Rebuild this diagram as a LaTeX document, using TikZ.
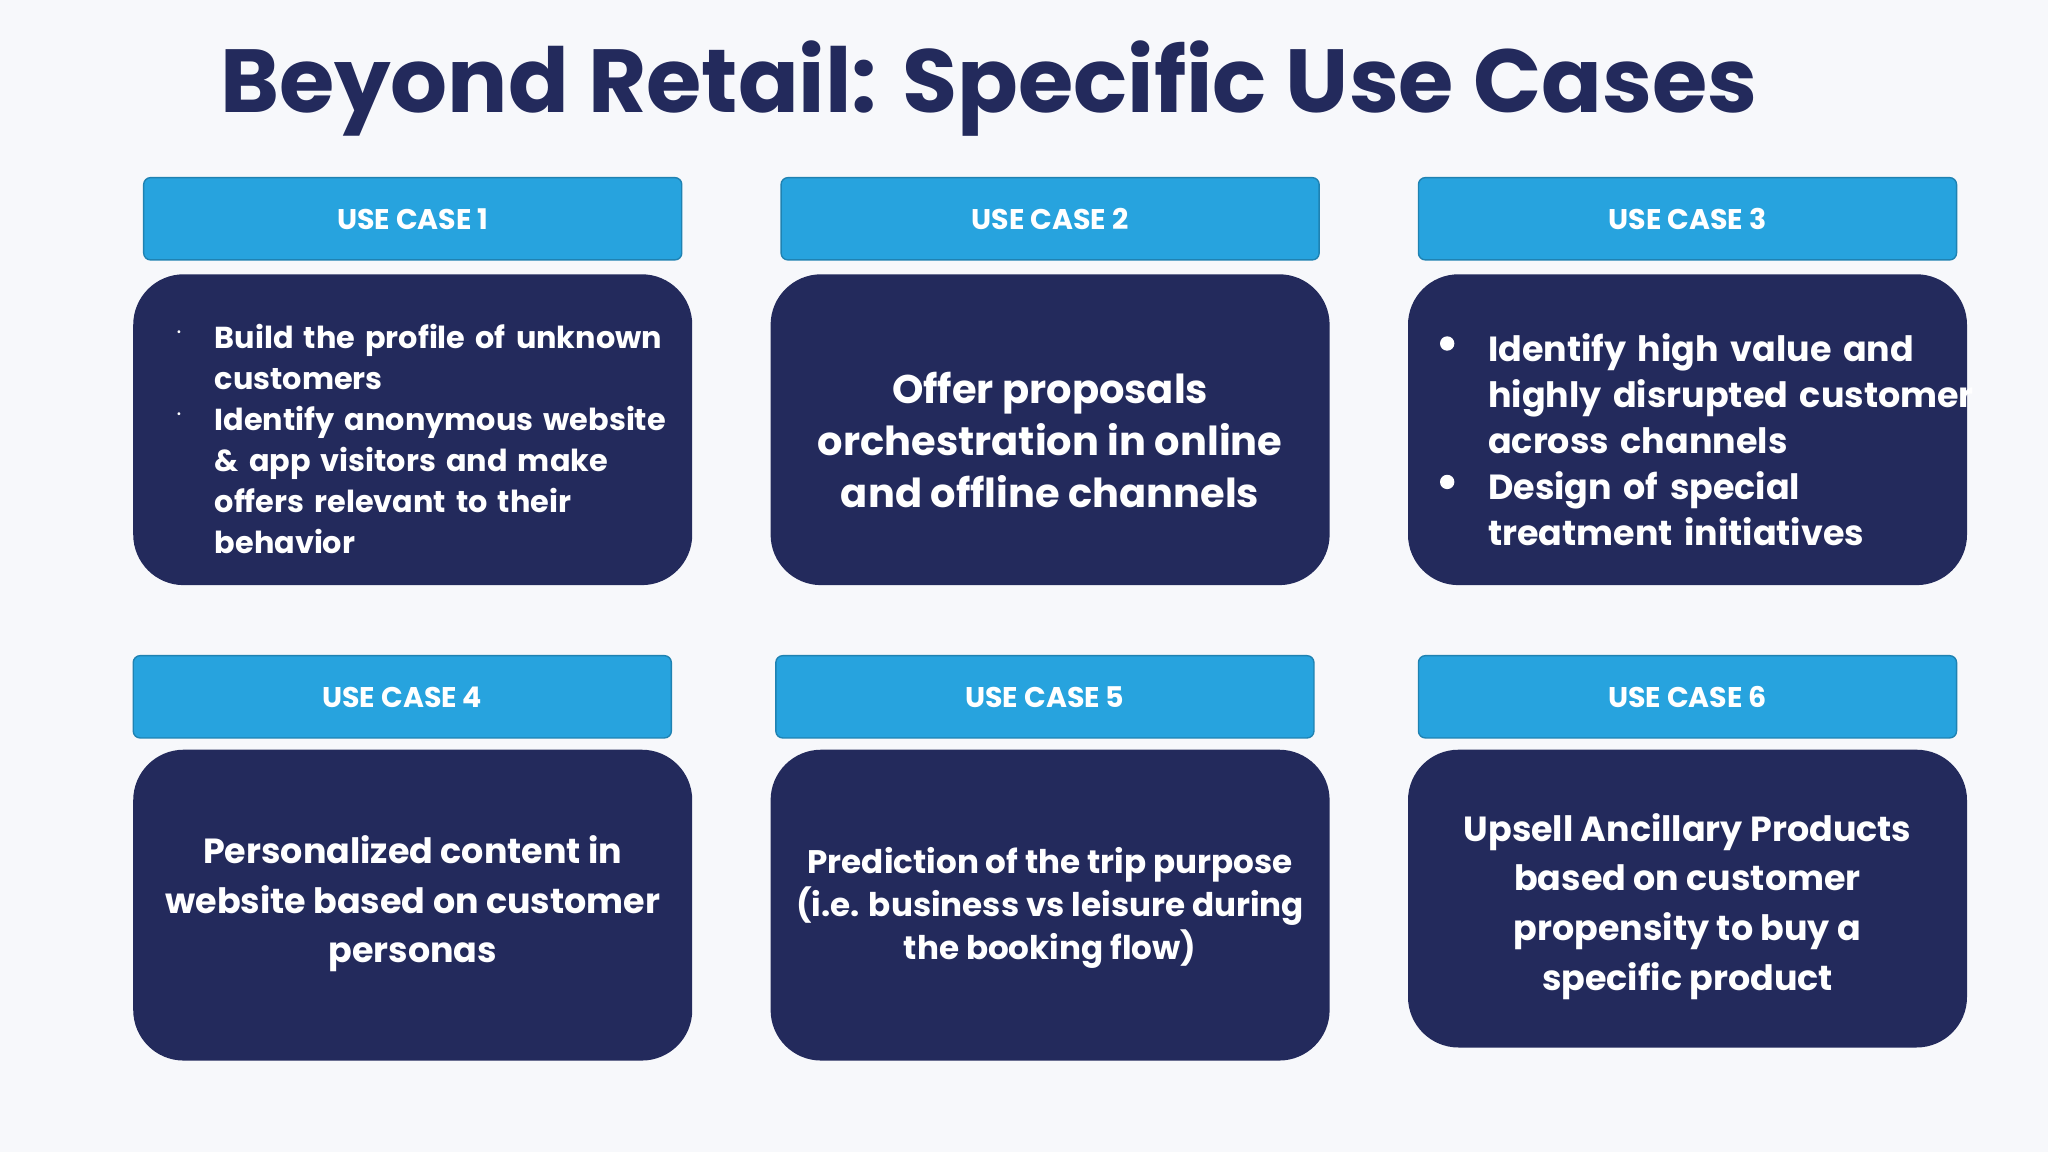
\documentclass[tikz,border=0pt]{standalone}
\usepackage{fontspec}
\setmainfont{Poppins}
\definecolor{navy}{HTML}{232A5C}
\definecolor{sky}{HTML}{27A3DE}
\definecolor{bg}{HTML}{F7F8FB}
\begin{document}
\begin{tikzpicture}[x=0.01cm,y=-0.01cm,
 hdr/.style={fill=sky,draw=sky!80!black,line width=0.3pt,rounded corners=1.5pt,text=white,font=\fontsize{6}{7}\selectfont\bfseries},
 card/.style={fill=navy,rounded corners=11pt,text=white,align=center},
 body/.style={text=white,align=center,font=\fontsize{7.6}{10.8}\selectfont\bfseries},
 lst/.style={text=white,align=left,font=\fontsize{6.6}{8.9}\selectfont\bfseries}]
\fill[bg] (0,0) rectangle (1568,882);
\useasboundingbox (0,0) rectangle (1568,882);
\node[text=navy,font=\fontsize{19.5}{22}\selectfont\bfseries] (title) at (757,68) {Beyond Retail: Specific Use Cases};
% headers
\foreach \n/\a/\b/\t/\bb in {h1/110/522/136/199,h2/598/1010/136/199,h3/1086/1498/136/199,h4/102/514/502/565,h5/594/1006/502/565,h6/1086/1498/502/565}{
  \path[hdr] (\a,\t) rectangle (\b,\bb);}
\node[text=white,font=\fontsize{6.2}{7}\selectfont\bfseries] (t1) at (316,168) {USE CASE 1};
\node[text=white,font=\fontsize{6.2}{7}\selectfont\bfseries] (t2) at (804,168) {USE CASE 2};
\node[text=white,font=\fontsize{6.2}{7}\selectfont\bfseries] (t3) at (1292,168) {USE CASE 3};
\node[text=white,font=\fontsize{6.2}{7}\selectfont\bfseries] (t4) at (308,534) {USE CASE 4};
\node[text=white,font=\fontsize{6.2}{7}\selectfont\bfseries] (t5) at (800,534) {USE CASE 5};
\node[text=white,font=\fontsize{6.2}{7}\selectfont\bfseries] (t6) at (1292,534) {USE CASE 6};
% cards
\fill[navy,rounded corners=11pt] (102,210) rectangle (530,448);
\fill[navy,rounded corners=11pt] (590,210) rectangle (1018,448);
\fill[navy,rounded corners=11pt] (1078,210) rectangle (1506,448);
\fill[navy,rounded corners=11pt] (102,574) rectangle (530,812);
\fill[navy,rounded corners=11pt] (590,574) rectangle (1018,812);
\fill[navy,rounded corners=11pt] (1078,574) rectangle (1506,802);
% card 1
\node[lst,anchor=north west,text width=350] (c1) at (152,236) {Build the profile of unknown\\customers\\Identify anonymous website\\\& app visitors and make\\offers relevant to their\\behavior};
\node[text=white,font=\tiny] (d1) at (137,254) {.};
\node[text=white,font=\tiny] (d2) at (137,317) {.};
\node[body,font=\fontsize{8.7}{11.3}\selectfont\bfseries] (c2) at (804,337) {Offer proposals\\orchestration in online\\and offline channels};
\node[lst,anchor=north west,text width=380,font=\fontsize{7.6}{10}\selectfont\bfseries] (c3) at (1127,243) {Identify high value and\\highly disrupted customer\\across channels\\Design of special\\treatment initiatives};
\fill[white] (1108,263) circle (5.5);
\fill[white] (1108,369) circle (5.5);
\node[body] (c4) at (316,692) {Personalized content in\\website based on customer\\personas};
\node[body,font=\fontsize{7.1}{9.4}\selectfont\bfseries] (c5) at (804,695) {Prediction of the trip purpose\\(i.e. business vs leisure during\\the booking flow)};
\node[body] (c6) at (1292,694) {Upsell Ancillary Products\\based on customer\\propensity to buy a\\specific product};
\end{tikzpicture}
\end{document}
